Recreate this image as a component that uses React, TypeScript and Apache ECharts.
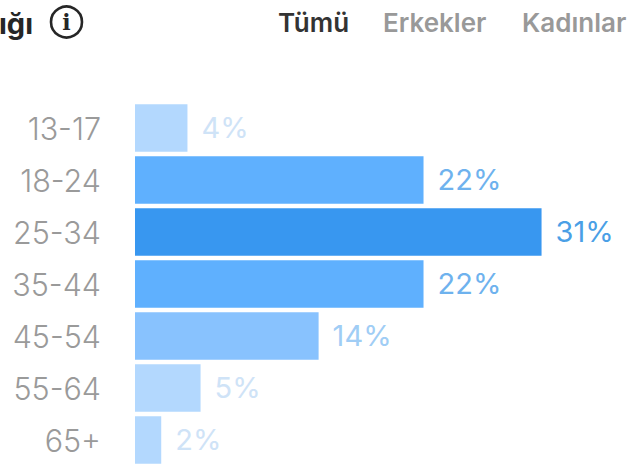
import React, { useEffect, useRef } from "react";
import * as echarts from "echarts";

const ageGroups = ["13-17", "18-24", "25-34", "35-44", "45-54", "55-64", "65+"];
const shares = [4, 22, 31, 22, 14, 5, 2];
const barColors = ["#b3d8fe", "#5fb0fe", "#3897f0", "#5fb0fe", "#88c2fe", "#b3d8fe", "#b3d8fe"];
const labelColors = ["#cfe3f7", "#6eb2ee", "#4a9fe6", "#6eb2ee", "#a0cdf5", "#cfe3f7", "#cfe3f7"];
const tabs = ["Tümü", "Erkekler", "Kadınlar"];
const titleTail = "ığı";

const FONT = "Inter, 'Noto Sans', sans-serif";

export default function App() {
  const ref = useRef<HTMLDivElement>(null);

  useEffect(() => {
    document.body.style.margin = "0";
    const chart = echarts.init(ref.current!, undefined, { renderer: "svg" });
    chart.setOption({
      animation: false,
      backgroundColor: "#ffffff",
      grid: { left: 135, top: 102, width: 480, height: 367, containLabel: false },
      xAxis: { type: "value", min: 0, max: 36.6, show: false },
      yAxis: {
        type: "category",
        inverse: true,
        data: ageGroups,
        axisLine: { show: false },
        axisTick: { show: false },
        axisLabel: {
          color: "#9a9a9a",
          fontFamily: FONT,
          fontSize: 30.5,
          fontWeight: 300,
          margin: 34,
          align: "right",
          verticalAlign: "middle",
          lineHeight: 30,
          padding: [0, 0, 4, 0],
        },
      },
      series: [
        {
          type: "bar",
          barCategoryGap: "9%",
          data: shares.map((v, i) => ({
            value: v,
            itemStyle: { color: barColors[i] },
            label: { color: labelColors[i] },
          })),
          label: {
            show: true,
            position: "right",
            distance: 14,
            formatter: "{c}%",
            fontFamily: FONT,
            fontSize: 29,
            fontWeight: 400,
            offset: [0, -1],
          },
        },
      ],
      graphic: [
        {
          type: "text",
          x: -1,
          y: 23,
          style: { text: titleTail, fill: "#262626", font: `700 29px ${FONT}`, verticalAlign: "middle" },
        },
        {
          type: "circle",
          shape: { cx: 66.5, cy: 22, r: 15.5 },
          style: { fill: "none", stroke: "#262626", lineWidth: 2.6 },
        },
        {
          type: "text",
          x: 66.5,
          y: 22,
          style: {
            text: "i",
            fill: "#262626",
            font: "700 22px 'DejaVu Serif', serif",
            align: "center",
            verticalAlign: "middle",
          },
        },
        {
          type: "text",
          x: 278,
          y: 22,
          style: { text: tabs[0], fill: "#333333", font: `600 26px ${FONT}`, verticalAlign: "middle" },
        },
        {
          type: "text",
          x: 383,
          y: 22,
          style: { text: tabs[1], fill: "#999999", font: `600 26px ${FONT}`, verticalAlign: "middle" },
        },
        {
          type: "text",
          x: 522,
          y: 22,
          style: { text: tabs[2], fill: "#999999", font: `600 26px ${FONT}`, verticalAlign: "middle" },
        },
      ],
    });
    return () => chart.dispose();
  }, []);

  return <div ref={ref} style={{ width: 628, height: 466 }} />;
}
